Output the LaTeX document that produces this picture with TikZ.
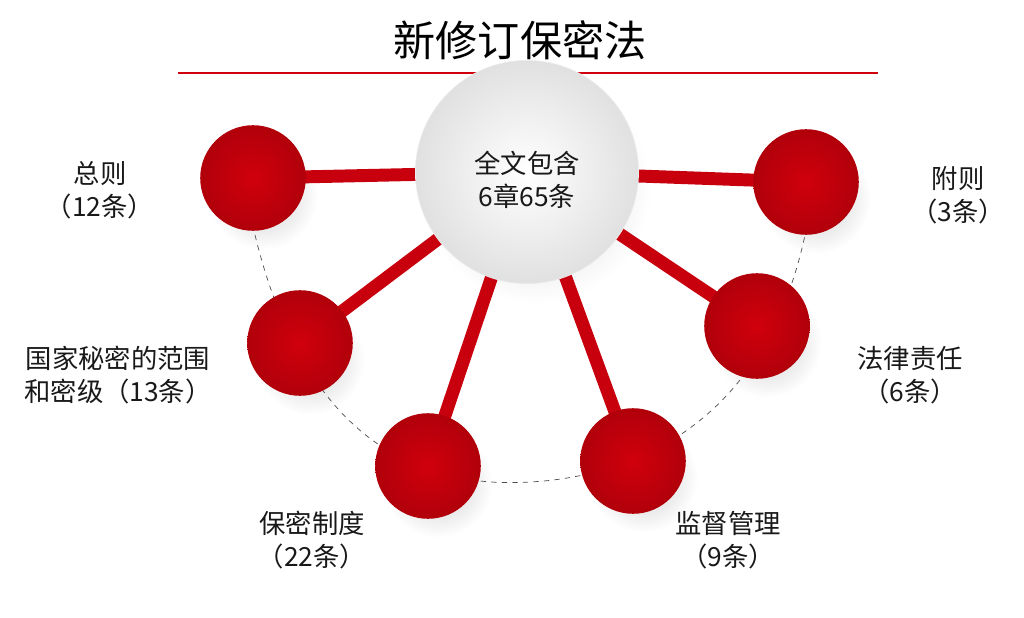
\documentclass[tikz,border=0pt]{standalone}
\usepackage{fontspec}
\newfontfamily\cjk{Noto Sans CJK SC}
\definecolor{myred}{HTML}{D0000C}
\definecolor{bar}{HTML}{C8000E}
\newlength\pxu
\setlength\pxu{0.5669pt}
\tikzset{
  redball/.style={circle,minimum size=106\pxu,inner sep=0,inner color=myred,outer color=myred!85!black,draw=none},
  redshadow/.style={circle,minimum size=110\pxu,inner sep=0,inner color=black!35,outer color=white,opacity=0.6,draw=none},
  lbl/.style={font=\cjk\fontsize{15}{19}\selectfont,align=center,text=black!90},
  barline/.style={line width=13\pxu,draw=bar}
}
\begin{document}
\begin{tikzpicture}[x=0.02cm,y=-0.02cm]
\useasboundingbox (0,0) rectangle (1024,618);
\node (title) at (520,40) {\cjk\fontsize{24}{28}\selectfont 新修订保密法};
\coordinate (l1) at (178,73); \coordinate (l2) at (878,73);
\draw[line width=1.5pt,myred] (l1) -- (l2);
\coordinate (O) at (527,172);
\foreach \p in {(263,195),(310,360),(438,483),(643,478),(767,343),(816,199)}
  \node[redshadow] at \p {};
\node[circle,minimum size=232\pxu,inner sep=0,inner color=black!30,outer color=white,opacity=0.6] at (536,188) {};
\coordinate (A) at (253,178);
\coordinate (B) at (300,343);
\coordinate (C) at (428,466);
\coordinate (D) at (633,461);
\coordinate (E) at (757,326);
\coordinate (F) at (806,182);
\draw[dashed,thin,gray!60!black] (255,235) .. controls (300,420) and (400,490) .. (530,482) .. controls (660,475) and (770,400) .. (805,235);
\foreach \n in {A,B,C,D,E,F} \draw[barline] (O) -- (\n);
\foreach \n in {A,B,C,D,E,F} \node[redball] at (\n) {};
\node[circle,minimum size=224\pxu,inner sep=0,inner color=white,outer color=black!12,draw=black!8] (center) at (O) {};
\node[lbl] (ct) at (527,180) {全文包含\\6章65条};
\node[lbl] (la) at (100,190) {总则\\（12条）};
\node[lbl] (lb) at (118,375) {国家秘密的范围\\和密级（13条）};
\node[lbl] (lc) at (312,540) {保密制度\\（22条）};
\node[lbl] (ld) at (728,540) {监督管理\\（9条）};
\node[lbl] (le) at (910,375) {法律责任\\（6条）};
\node[lbl] (lf) at (958,195) {附则\\（3条）};
\end{tikzpicture}
\end{document}
